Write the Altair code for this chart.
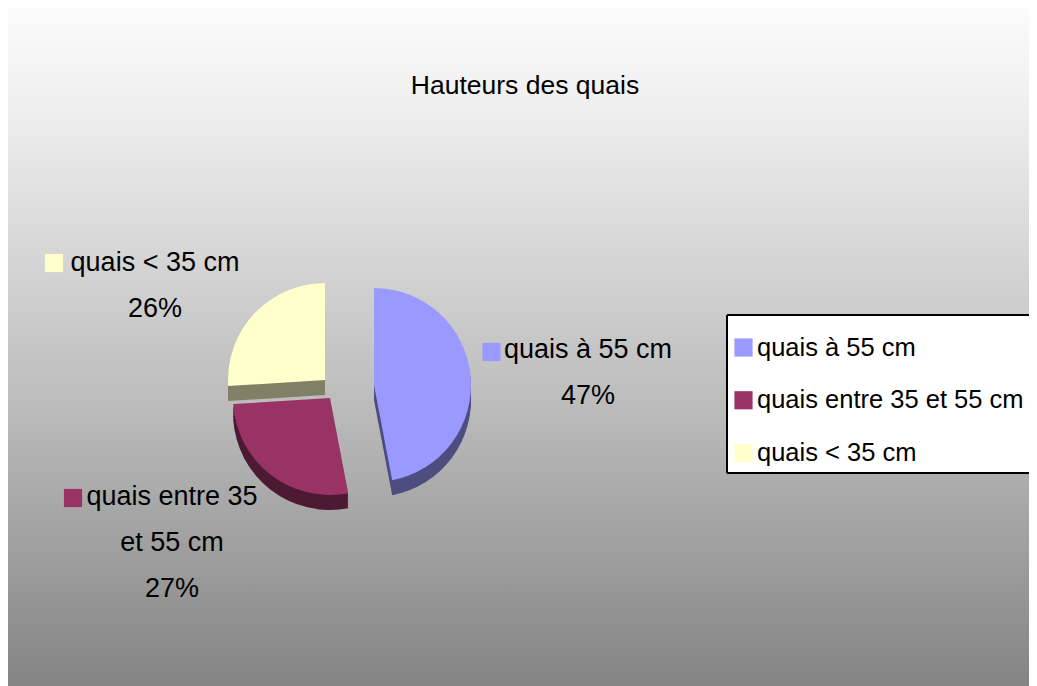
import altair as alt
import pandas as pd

TITLE = "Hauteurs des quais"
categories = ["quais à 55 cm", "quais entre 35 et 55 cm", "quais < 35 cm"]
pie_labels = ["quais à 55 cm", "quais entre 35\net 55 cm", "quais < 35 cm"]
values = [47, 27, 26]
top_colors = ["#9999FF", "#993366", "#FFFFCC"]
side_colors = ["#4D4D80", "#4D1A33", "#808066"]

W, H = 1021, 678
FONT = "Liberation Sans, Arial, sans-serif"
FS = 27
R = 97

df = pd.DataFrame({"cat": categories, "label": pie_labels, "value": values,
                   "order": list(range(len(categories)))})
dummy = pd.DataFrame({"k": [0]})

color_scale = alt.Scale(domain=categories, range=top_colors)

base = alt.Chart(df).transform_window(
    cum="sum(value)", sort=[alt.SortField("order")], frame=[None, 0]
).transform_joinaggregate(total="sum(value)").transform_calculate(
    t0="2*PI*(datum.cum - datum.value)/datum.total",
    t1="2*PI*datum.cum/datum.total",
    txt="datum.label + '\\n' + datum.value + '%'",
)

bg = alt.Chart(dummy).mark_rect(
    color=alt.LinearGradient(
        gradient="linear", x1=0, x2=0, y1=0, y2=1,
        stops=[alt.GradientStop(offset=0, color="#fbfbfb"),
               alt.GradientStop(offset=0.15, color="#eeeeee"),
               alt.GradientStop(offset=0.55, color="#bebebe"),
               alt.GradientStop(offset=1, color="#808080")])
).encode(x=alt.value(0), x2=alt.value(W + 20), y=alt.value(0), y2=alt.value(H + 20))

title = alt.Chart(dummy).mark_text(
    text=TITLE, font=FONT, fontSize=26.5, color="black", align="center", baseline="middle"
).encode(x=alt.value(517), y=alt.value(78))

layers = [bg, title]

# pie centres (layout), indexed like categories
centers = [(366, 377), (322, 390), (317, 372)]
for i in [2, 1, 0]:
    cat = categories[i]
    cx, cy = centers[i]
    sl = base.transform_filter(alt.datum.cat == cat)
    for d in [15, 12, 9, 6, 3]:
        layers.append(sl.mark_arc(radius=R).encode(
            theta=alt.Theta("t0:Q", scale=None), theta2="t1:Q",
            x=alt.value(cx), y=alt.value(cy + d), color=alt.value(side_colors[i])))
    layers.append(sl.mark_arc(radius=R).encode(
        theta=alt.Theta("t0:Q", scale=None), theta2="t1:Q",
        x=alt.value(cx), y=alt.value(cy),
        color=alt.Color("cat:N", scale=color_scale, legend=None)))

# pie data labels (layout positions): text centre x, first-line y, square x, square y
label_pos = [(580, 342, 483.5, 344), (164, 489, 65, 490), (147, 255, 46, 255)]
for i, cat in enumerate(categories):
    tx, ty, sx, sy = label_pos[i]
    sl = base.transform_filter(alt.datum.cat == cat)
    layers.append(sl.mark_square(size=330, opacity=1).encode(
        x=alt.value(sx), y=alt.value(sy),
        color=alt.Color("cat:N", scale=color_scale, legend=None)))
    layers.append(sl.mark_text(
        lineBreak="\n", align="center", baseline="middle", font=FONT, fontSize=FS,
        lineHeight=46, color="black").encode(
        x=alt.value(tx), y=alt.value(ty), text="txt:N"))

# legend box (runs off the right edge, as in the reference)
LX, LY0, LY1 = 719, 307, 465
layers.append(alt.Chart(dummy).mark_rect(fill="white").encode(
    x=alt.value(LX), x2=alt.value(W + 40), y=alt.value(LY0), y2=alt.value(LY1)))
for (x0, x1, y0, y1) in [(LX, W + 40, LY0, LY0), (LX, W + 40, LY1, LY1), (LX, LX, LY0, LY1)]:
    layers.append(alt.Chart(dummy).mark_rule(color="black", strokeWidth=2).encode(
        x=alt.value(x0), x2=alt.value(x1), y=alt.value(y0), y2=alt.value(y1)))
ly = alt.Y("cat:N", scale=alt.Scale(type="point", domain=categories, range=[339.5, 445], padding=0), axis=None)
layers.append(alt.Chart(df).mark_square(size=330, opacity=1).encode(
    x=alt.value(735.5), y=ly, color=alt.Color("cat:N", scale=color_scale, legend=None)))
layers.append(alt.Chart(df).mark_text(
    align="left", baseline="middle", font=FONT, fontSize=25.5, color="black").encode(
    x=alt.value(749), y=ly, text="cat:N"))

chart = alt.layer(*layers).properties(
    width=W, height=H, padding=0,
    autosize=alt.AutoSizeParams(type="none"),
).configure_view(stroke=None)

chart.save("out.html", embed_options={"renderer": "svg", "actions": False})
